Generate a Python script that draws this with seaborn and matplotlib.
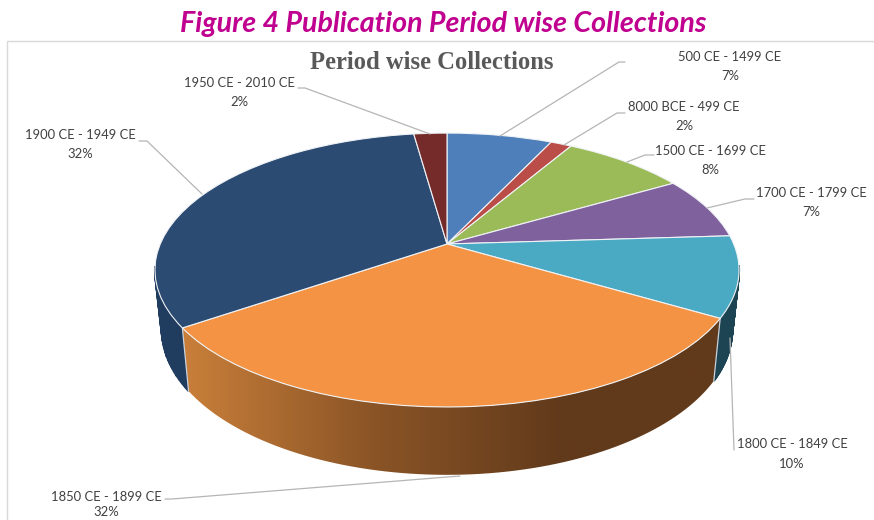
import numpy as np
import matplotlib
matplotlib.use("Agg")
import matplotlib.pyplot as plt
from matplotlib.transforms import Transform
import seaborn as sns

# 1. Data
periods = ["500 CE - 1499 CE", "8000 BCE - 499 CE", "1500 CE - 1699 CE", "1700 CE - 1799 CE",
           "1800 CE - 1849 CE", "1850 CE - 1899 CE", "1900 CE - 1949 CE", "1950 CE - 2010 CE"]
shares = [7.0, 1.4, 8.2, 7.4, 9.5, 31.9, 32.4, 2.2]
share_labels = ["7%", "2%", "8%", "7%", "10%", "32%", "32%", "2%"]
top_colors = ["#4f7fba", "#bb4d49", "#9bba58", "#7f619e", "#4aa9c3", "#f39343", "#2b4b73", "#752b2a"]
side_colors = ["#3a5f8c", "#8a3835", "#738a41", "#5e4875", "#1c4452", "#8a5426", "#203c5f", "#561f1e"]

# 2. Label layout in pixels: text centre, and the leader from the text to the rim
label_xy = [(730, 57), (684, 107), (710, 151), (811, 193), (792, 444), (106, 497), (80, 135), (239, 83)]
leaders = [
    [(625, 62), (619, 62), (500, 136)],
    [(625, 113), (617, 113), (564, 145)],
    [(654, 155), (645, 155), (627, 162)],
    [(754, 199), (745, 199), (707, 208)],
    [(734, 450), (730, 338)],
    [(165, 499), (172, 499), (460, 476)],
    [(139, 141), (147, 141), (202, 194)],
    [(298, 88), (305, 88), (430, 134)],
]


class PerspectiveDisc(Transform):
    """Tilted disc: maps the unit circle of ax.pie to a perspective ellipse in pixels."""
    input_dims = 2
    output_dims = 2

    def __init__(self, cx, cy, a, b, k=0.19):
        super().__init__()
        self.cx, self.cy, self.a, self.b, self.k = cx, cy, a, b, k

    def transform_non_affine(self, values):
        u, v = np.asarray(values).T
        w = 1 + self.k * v
        return np.column_stack([self.cx + self.a * u / w, self.cy - self.b * v / w])


top_disc = PerspectiveDisc(447, 244, 286.7, 132)
low_disc = PerspectiveDisc(447, 302, 280, 140)


def wall(theta1, theta2, n=80):
    t = np.radians(np.linspace(theta1, theta2, n))
    rim = np.column_stack([np.cos(t), np.sin(t)])
    return top_disc.transform(rim), low_disc.transform(rim)


sns.set_theme(style="white")
plt.rcParams["font.family"] = ["Lato", "DejaVu Sans"]

fig = plt.figure(figsize=(8.74, 5.2), dpi=100, facecolor="white")
ax = fig.add_axes([0, 0, 1, 1])

# 3. Top face comes from the pie, the wedges are only re-projected
wedges, _ = ax.pie(shares, colors=sns.color_palette(top_colors), startangle=90, counterclock=False,
                   wedgeprops={"edgecolor": "#f0f3f6", "linewidth": 0.8})
for w in wedges:
    w.set_transform(top_disc + ax.transData)
    w.set_zorder(3)

# 4. Side walls as small quads so the silhouette stays closed, the orange one has a gradient
for i, w in enumerate(wedges):
    if i == 5:
        continue
    upper, lower = wall(w.theta1, w.theta2)
    for j in range(len(upper) - 1):
        # the back of the disc is hidden, only draw from the widest point of the rim forward
        if upper[j, 1] < 265 or upper[j + 1, 1] < 265:
            continue
        quad = np.vstack([upper[j], upper[j + 1], lower[j + 1], lower[j]])
        ax.fill(*quad.T, color=side_colors[i], lw=1.5, zorder=1)

orange = wedges[5]
grad_x = np.linspace(170, 730, 300)
grad = np.clip((grad_x - 183) / (565 - 183), 0, 1).reshape(1, -1)
cmap = sns.blend_palette(["#c97f3a", "#8a5426", "#613a1b"], as_cmap=True)
img = ax.imshow(grad, cmap=cmap, extent=(170, 730, 480, 240), aspect="auto", zorder=1.5)
upper, lower = wall(orange.theta1, orange.theta2)
clip_patch = plt.Polygon(np.vstack([upper, lower[::-1]]), closed=True, transform=ax.transData,
                         fc="none", ec="none")
ax.add_patch(clip_patch)
img.set_clip_path(clip_patch)

for theta in (orange.theta1, orange.theta2):
    upper, lower = wall(theta, theta, n=1)
    ax.plot([upper[0, 0], lower[0, 0]], [upper[0, 1], lower[0, 1]], color="#c9d2dc", lw=0.9, zorder=2)

ax.set_aspect("auto")
ax.set_xlim(0, 874)
ax.set_ylim(520, 0)
ax.axis("off")

# 5. Chart border (open on the right), titles and labels
ax.plot([7, 7, 874], [520, 40.5, 40.5], color="#d9d9d9", lw=1, zorder=0)

ax.text(443.5, 24, "Figure 4 Publication Period wise Collections", ha="center", va="center",
        fontsize=20.6, fontweight="bold", fontstyle="italic", color="#c0008f")
ax.text(432, 62.5, "Period wise Collections", ha="center", va="center", family="Liberation Serif",
        fontsize=17.7, fontweight="bold", color="#595959")

for name, pct, (x, y), line in zip(periods, share_labels, label_xy, leaders):
    ax.text(x, y, name, ha="center", va="center", fontsize=9.4, color="#404040", zorder=5)
    # the bottom label runs off the picture in the reference, keep its share readable
    ax.text(x, min(y + 19.5, 512.5), pct, ha="center", va="center", fontsize=9.4, color="#404040", zorder=5)
    ax.plot(*np.array(line).T, color="#b5b5b5", lw=0.9, zorder=4)

fig.savefig("out.png", dpi=100)
